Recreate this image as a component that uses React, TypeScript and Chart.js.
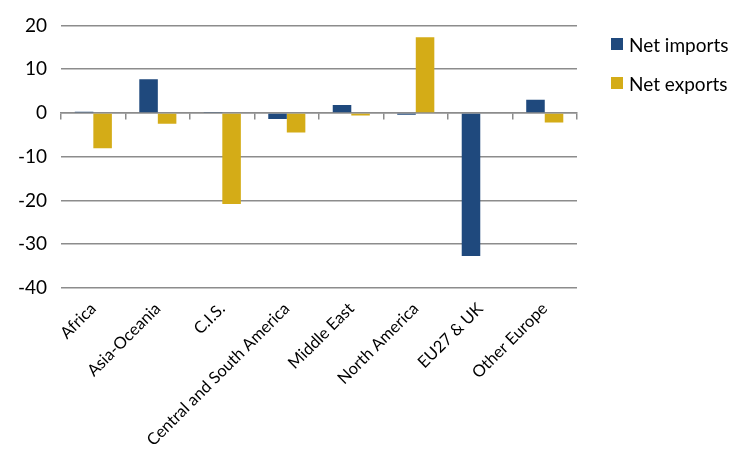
import React, { useEffect, useRef } from "react";
import { Chart, registerables } from "chart.js";

Chart.register(...registerables);

const categories = [
  "Africa",
  "Asia-Oceania",
  "C.I.S.",
  "Central and South America",
  "Middle East",
  "North America",
  "EU27 & UK",
  "Other Europe",
];
const netImports = [0.25, 7.7, 0.2, -1.4, 1.8, -0.4, -32.7, 3.0];
const netExports = [-8.1, -2.5, -20.8, -4.5, -0.6, 17.3, 0, -2.2];
const seriesNames = ["Net imports", "Net exports"];
const seriesColors = ["#1f497d", "#d4ac17"];
const yMin = -40;
const yMax = 20;
const yStep = 10;

const FONT = "Lato, 'Liberation Sans', sans-serif";
const GRID = "#8c8c8c";

export default function App() {
  const ref = useRef<HTMLCanvasElement | null>(null);
  useEffect(() => {
    if (!ref.current) return;
    const chart = new Chart(ref.current, {
      type: "bar",
      data: {
        labels: categories,
        datasets: [
          {
            label: seriesNames[0],
            data: netImports,
            backgroundColor: seriesColors[0],
            categoryPercentage: 0.575,
            barPercentage: 1,
          },
          {
            label: seriesNames[1],
            data: netExports,
            backgroundColor: seriesColors[1],
            categoryPercentage: 0.575,
            barPercentage: 1,
          },
        ],
      },
      options: {
        animation: false,
        responsive: false,
        maintainAspectRatio: false,
        layout: { autoPadding: false, padding: { top: 23, left: 4, right: 173, bottom: 20 } },
        plugins: {
          tooltip: { enabled: false },
          legend: { display: false },
        },
        scales: {
          x: {
            ticks: {
              color: "#000",
              font: { family: FONT, size: 16.5 },
              minRotation: 45,
              maxRotation: 45,
              autoSkip: false,
            },
            grid: { display: false },
            border: { display: false },
          },
          x2: {
            type: "category",
            labels: categories,
            position: { y: 0 },
            offset: true,
            ticks: { display: false },
            grid: {
              offset: true,
              drawOnChartArea: false,
              drawTicks: true,
              tickLength: 6,
              color: GRID,
              lineWidth: 1.5,
            },
            border: { display: true, color: GRID, width: 1.5 },
          },
          y: {
            min: yMin,
            max: yMax,
            ticks: {
              stepSize: yStep,
              color: "#000",
              font: { family: FONT, size: 19 },
              padding: 14,
            },
            grid: { color: GRID, lineWidth: 1.5, drawTicks: false },
            border: { display: false },
          },
        },
      },
    });
    return () => chart.destroy();
  }, []);
  return (
    <div style={{ position: "fixed", left: 0, top: 0, width: 750, height: 473, background: "#fff" }}>
      <canvas ref={ref} width={750} height={473} />
      <div style={{ position: "absolute", left: 611, top: 30, fontFamily: FONT, fontSize: 19, color: "#000" }}>
        {seriesNames.map((name, i) => (
          <div key={name} style={{ display: "flex", alignItems: "center", height: 28, marginBottom: i === 0 ? 11 : 0 }}>
            <span style={{ display: "inline-block", width: 12, height: 12, background: seriesColors[i], marginRight: 6 }} />
            <span>{name}</span>
          </div>
        ))}
      </div>
    </div>
  );
}
